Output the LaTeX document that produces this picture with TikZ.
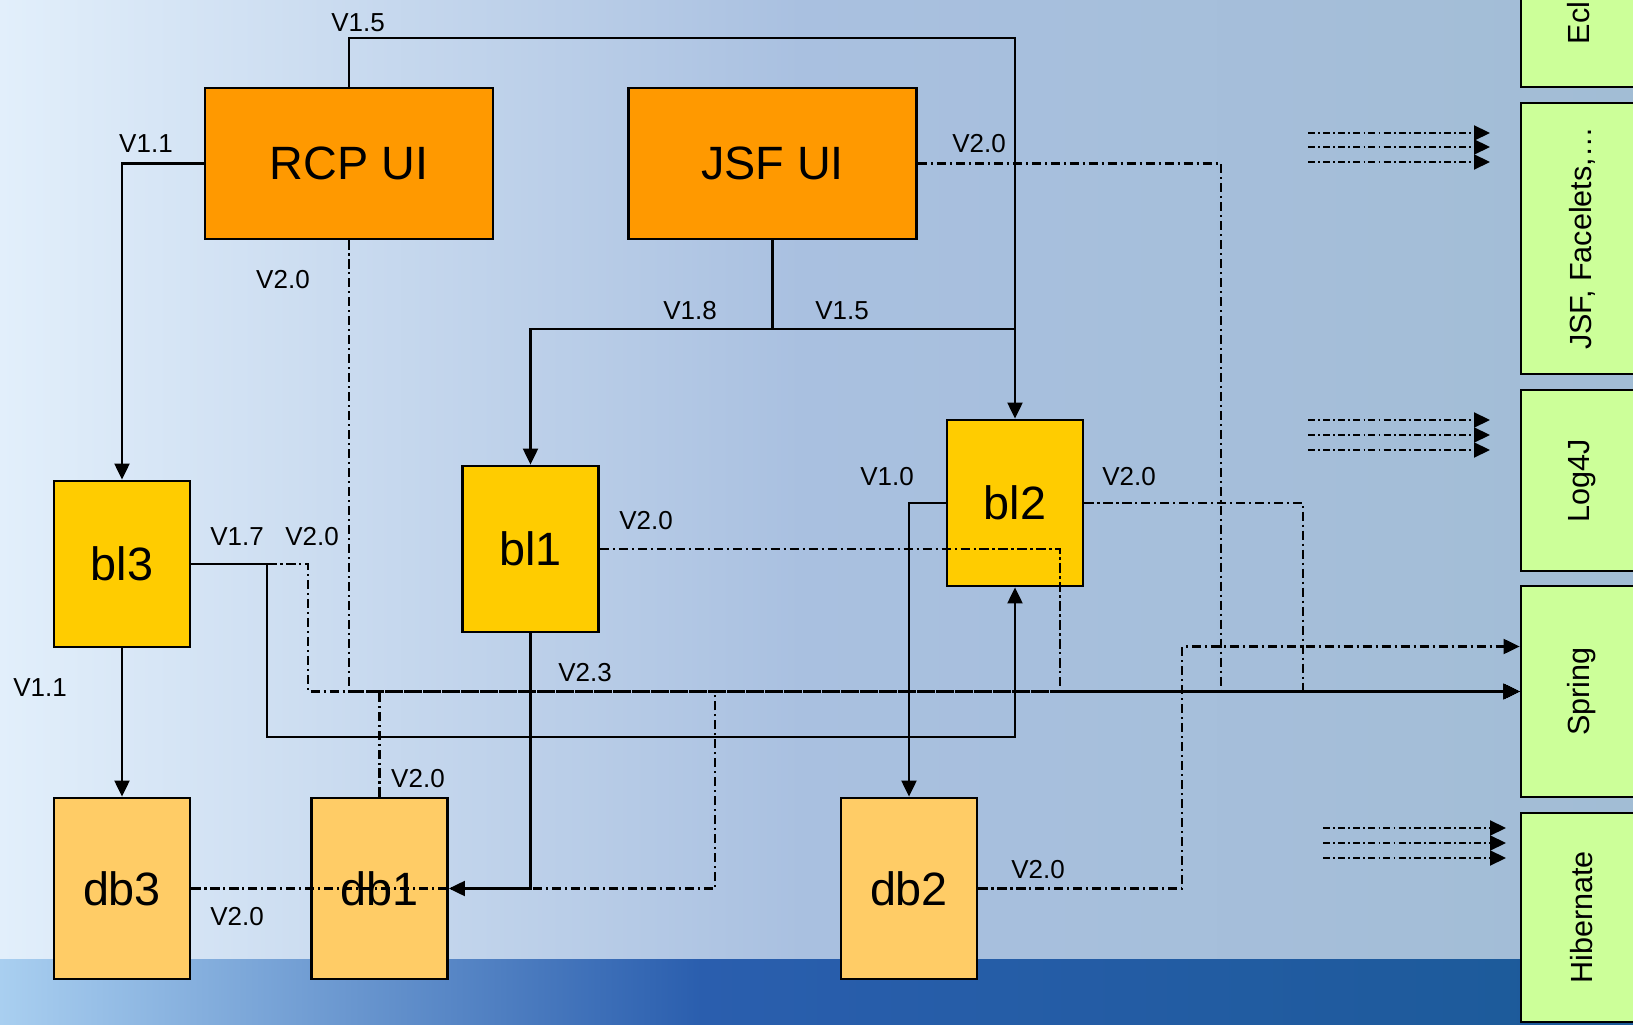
\documentclass[tikz,border=0pt]{standalone}
\usepackage{fontspec}
\setmainfont{Liberation Sans}
\usepackage{graphicx}
\usepackage{xcolor}
\usetikzlibrary{arrows.meta,calc}
\definecolor{uiorange}{HTML}{FF9900}
\definecolor{blyellow}{HTML}{FFCC00}
\definecolor{dbyellow}{HTML}{FFCC66}
\definecolor{libgreen}{HTML}{CCFF99}
\definecolor{bgleft}{HTML}{E2EFFB}
\definecolor{bglight}{HTML}{C0D8F3}
\definecolor{bgmid}{HTML}{A9C0E0}
\definecolor{bgright}{HTML}{A2BDD5}
\definecolor{bandleft}{HTML}{A9CFF0}
\definecolor{bandmid}{HTML}{2A5EAE}
\definecolor{banddark}{HTML}{1B5A98}
\tikzset{
  box/.style={draw=black, line width=0.8pt, inner sep=0pt},
  uibox/.style={box, fill=uiorange, minimum width=2.88cm, minimum height=1.51cm, font=\fontsize{13.3}{16}\selectfont},
  blbox/.style={box, fill=blyellow, minimum width=1.36cm, minimum height=1.66cm, font=\fontsize{13.3}{16}\selectfont},
  dbbox/.style={box, fill=dbyellow, minimum width=1.36cm, minimum height=1.81cm, font=\fontsize{13.3}{16}\selectfont},
  libbox/.style={box, fill=libgreen, minimum width=1.22cm, font=\fontsize{8.7}{10}\selectfont},
  link/.style={draw=black, line width=0.6pt, -{Triangle[length=0.16cm,width=0.15cm]}},
  dep/.style={link, dash pattern=on 2.6pt off 1.1pt on 0.6pt off 1.1pt},
  stub/.style={link, dash pattern=on 2pt off 0.9pt on 0.5pt off 0.9pt},
  ver/.style={font=\fontsize{7.4}{9}\selectfont, inner sep=0pt},
}

\begin{document}
\begin{tikzpicture}
  \useasboundingbox (0,0) rectangle (16.33,10.24);
  \clip (0,0) rectangle (16.33,10.24);

  % background
  \shade[left color=bgleft, middle color=bglight, right color=bgmid] (0,0) rectangle (8.02,10.24);
  \shade[left color=bgmid, right color=bgright] (8,0) rectangle (16.33,10.24);
  \shade[left color=bandleft, right color=bandmid] (0,0) rectangle (7.02,0.65);
  \shade[left color=bandmid, right color=banddark] (7,0) rectangle (16.33,0.65);

  % components
  \node[uibox] (rcp) at (3.49,8.605) {RCP UI};
  \node[uibox] (jsf) at (7.725,8.605) {JSF UI};
  \node[blbox] (bl3) at (1.22,4.60) {bl3};
  \node[blbox] (bl1) at (5.305,4.75) {bl1};
  \node[blbox] (bl2) at (10.15,5.21) {bl2};
  \node[dbbox] (db3) at (1.22,1.355) {db3};
  \node[dbbox] (db1) at (3.795,1.355) {db1};
  \node[dbbox] (db2) at (9.09,1.355) {db2};

  % libraries
  \node[libbox, minimum height=1.84cm] (eclipse) at (15.82,10.29) {\rotatebox{90}{Eclipse}};
  \node[libbox, minimum height=2.71cm] (jsflib) at (15.82,7.855) {\rotatebox{90}{JSF, Facelets,\dots}};
  \node[libbox, minimum height=1.81cm] (log4j) at (15.82,5.435) {\rotatebox{90}{Log4J}};
  \node[libbox, minimum height=2.11cm] (spring) at (15.82,3.325) {\rotatebox{90}{Spring}};
  \node[libbox, minimum height=2.09cm] (hibernate) at (15.82,1.065) {\rotatebox{90}{Hibernate}};

  % solid dependencies
  \draw[link] (rcp.north) -- ++(0,0.49) -| (bl2.north);
  \draw[link] (rcp.west) -| (bl3.north);
  \draw[link] (jsf.south) -- ++(0,-0.89) coordinate (jsfsplit) -| (bl1.north);
  \draw[line width=0.6pt] (jsfsplit) -- (jsfsplit -| bl2.north);
  \draw[link] (bl3.east) -- ++(0.76,0) coordinate (bl3fork) |- ($(bl2.south)+(0,-1.5)$) -- (bl2.south);
  \draw[link] (bl3.south) -- (db3.north);
  \draw[link] (bl1.south) |- (db1.east);
  \draw[link] (bl2.west) -| (db2.north);

  % dash-dot dependencies on the frameworks
  \draw[dep] (rcp.south) |- (spring.west);
  \draw[dep] (jsf.east) -- ++(3.03,0) |- (spring.west);
  \draw[dep] (bl3fork) -- ++(0.41,0) |- (spring.west);
  \draw[dep] (bl1.east) -- ++(4.6,0) |- (spring.west);
  \draw[dep] (bl2.east) -- ++(2.19,0) |- (spring.west);
  \draw[dep] (db1.north) |- (spring.west);
  \draw[dep] (db3.east) -- ++(5.24,0) |- (spring.west);
  \draw[dep] (db2.east) -- ++(2.04,0) |- ($(spring.west)+(0,0.45)$);

  \foreach \y in {8.91,8.77,8.62,6.04,5.89,5.74}
    \draw[stub] (13.08,\y) -- ++(1.82,0);
  \foreach \y in {1.96,1.81,1.66}
    \draw[stub] (13.23,\y) -- ++(1.83,0);

  % version labels
  \node[ver] (lrcptop) at (3.58,10.01) {V1.5};
  \node[ver] (lrcpleft) at (1.46,8.80) {V1.1};
  \node[ver] (lrcpdown) at (2.83,7.44) {V2.0};
  \node[ver] (ljsfright) at (9.79,8.80) {V2.0};
  \node[ver] (ljsfbl1) at (6.90,7.13) {V1.8};
  \node[ver] (ljsfbl2) at (8.42,7.13) {V1.5};
  \node[ver] (lbl3bl2) at (2.37,4.87) {V1.7};
  \node[ver] (lbl3dep) at (3.12,4.87) {V2.0};
  \node[ver] (lbl1dep) at (6.46,5.03) {V2.0};
  \node[ver] (lbl2db2) at (8.87,5.47) {V1.0};
  \node[ver] (lbl2dep) at (11.29,5.47) {V2.0};
  \node[ver] (lbl3db3) at (0.40,3.36) {V1.1};
  \node[ver] (lbus) at (5.85,3.51) {V2.3};
  \node[ver] (ldb1dep) at (4.18,2.45) {V2.0};
  \node[ver] (ldb3dep) at (2.37,1.07) {V2.0};
  \node[ver] (ldb2dep) at (10.38,1.54) {V2.0};
\end{tikzpicture}
\end{document}
